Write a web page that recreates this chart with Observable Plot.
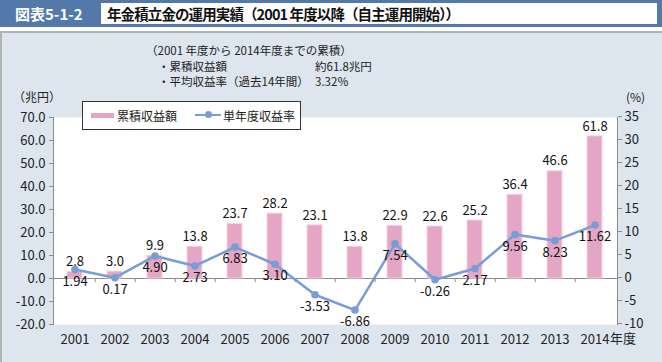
<!DOCTYPE html>
<html>
<head>
<meta charset="utf-8">
<script src="https://cdn.jsdelivr.net/npm/d3@7"></script>
<script src="https://cdn.jsdelivr.net/npm/@observablehq/plot@0.6"></script>
<style>
  html, body { margin: 0; padding: 0; background: #ffffff; }
  body { font-family: "Noto Sans CJK JP", "Noto Sans", sans-serif; color: #222; }
  #wrap { position: relative; width: 662px; height: 362px; overflow: hidden; }
  .abs { position: absolute; white-space: nowrap; }
  #banner { left: 0; top: 0; width: 662px; height: 27px; background: #5279aa; }
  #bannerWhite { left: 101px; top: 3px; width: 556px; height: 21px; background: #fff; }
  #fig { left: 15px; top: 3px; font-size: 15px; font-weight: bold; color: #fff; line-height: 21px; }
  #title { left: 107px; top: 3px; font-size: 14.5px; letter-spacing: -0.9px; font-weight: bold; color: #111; line-height: 21px; }
  #panel { left: 0; top: 31px; width: 660px; height: 329px; background: #dde6ee; border: 2px solid #b2b2b2; }
  .note { font-size: 11.5px; line-height: 15px; color: #222; }
  #chart { left: 0; top: 90px; }
  #legend { left: 82px; top: 101px; width: 217px; height: 27px; background: #fff; border: 1px solid #333; z-index: 5; }
  .lg { position: absolute; font-size: 12px; line-height: 27px; top: 0; }
</style>
</head>
<body>
<div id="wrap">
  <div id="banner" class="abs"></div>
  <div id="bannerWhite" class="abs"></div>
  <div id="fig" class="abs">図表5-1-2</div>
  <div id="title" class="abs">年金積立金の運用実績（2001 年度以降（自主運用開始））</div>
  <div id="panel" class="abs"></div>
  <div class="abs note" style="left:146px; top:43px;">（2001 年度から 2014年度までの累積）</div>
  <div class="abs note" style="left:158px; top:59px;">・累積収益額</div>
  <div class="abs note" style="left:315px; top:59px;">約61.8兆円</div>
  <div class="abs note" style="left:158px; top:74px;">・平均収益率（過去14年間）</div>
  <div class="abs note" style="left:315px; top:74px;">3.32％</div>
  <div class="abs note" style="left:13px; top:89px; font-size:12px;">（兆円）</div>
  <div class="abs note" style="left:626px; top:89px; font-size:12px;">(%)</div>
  <div id="chart" class="abs"></div>
  <div id="legend" class="abs">
    <div style="position:absolute; left:8px; top:11px; width:23px; height:5px; background:#e4a6c4;"></div>
    <div class="lg" style="left:34px;">累積収益額</div>
    <div style="position:absolute; left:112px; top:12px; width:26px; height:2px; background:#789dd6;"></div>
    <div style="position:absolute; left:122px; top:9px; width:7px; height:7px; border-radius:50%; background:#789dd6;"></div>
    <div class="lg" style="left:140px;">単年度収益率</div>
  </div>
</div>
<script>
// Data
const years = [2001, 2002, 2003, 2004, 2005, 2006, 2007, 2008, 2009, 2010, 2011, 2012, 2013, 2014];
const cumulative = [2.8, 3.0, 9.9, 13.8, 23.7, 28.2, 23.1, 13.8, 22.9, 22.6, 25.2, 36.4, 46.6, 61.8]; // 兆円
const rate = [1.94, 0.17, 4.90, 2.73, 6.83, 3.10, -3.53, -6.86, 7.54, -0.26, 2.17, 9.56, 8.23, 11.62]; // %
const leftTicks = [-20, -10, 0, 10, 20, 30, 40, 50, 60, 70];
const rightTicks = [-10, -5, 0, 5, 10, 15, 20, 25, 30, 35];

const data = years.map((y, i) => ({year: y, cum: cumulative[i], rate: rate[i]}));
const ratio = 2; // right axis (-10..35) maps onto left axis (-20..70)

const pink = "#e4a6c4";
const blue = "#789dd6";
const axisGray = "#8c8c8c";
const font = "Noto Sans CJK JP, Noto Sans, sans-serif";
const fmt = f => v => d3.format(f)(v).replace("\u2212", "-");

const chart = Plot.plot({
  width: 662,
  height: 262,
  marginTop: 27,
  marginBottom: 28,
  marginLeft: 53,
  marginRight: 45,
  style: {fontFamily: font, fontSize: "13px", color: "#222", background: "transparent", overflow: "visible"},
  x: {type: "band", domain: years, paddingInner: 0.62, paddingOuter: 0.31, label: null},
  y: {domain: [-20, 70], label: null},
  marks: [
    Plot.frame({fill: "#ffffff", stroke: null}),
    Plot.ruleY([0], {stroke: axisGray, strokeWidth: 1}),
    Plot.ruleX(years.slice(0, -1), {x: d => d, y1: 0, y2: 0, dx: 20.18, insetBottom: -4, stroke: axisGray}),
    Plot.barY(data, {x: "year", y: "cum", fill: pink, stroke: "#f3d3e2", strokeWidth: 1}),
    Plot.axisY(leftTicks, {anchor: "left", tickSize: 4, tickPadding: 4, stroke: axisGray, tickFormat: fmt(".1f"), fontSize: 13, label: null}),
    Plot.axisY(rightTicks.map(d => d * ratio), {anchor: "right", tickSize: 4, tickPadding: 3, stroke: axisGray, tickFormat: d => String(d / ratio), fontSize: 13, dy: -1, label: null}),
    Plot.frame({anchor: "left", stroke: axisGray}),
    Plot.frame({anchor: "right", stroke: axisGray}),
    Plot.axisX(years, {anchor: "bottom", tickSize: 0, tickPadding: 10, fontSize: 13, label: null, tickFormat: d => String(d)}),
    Plot.text([2014], {x: d => d, frameAnchor: "bottom", text: () => "年度", textAnchor: "start", dx: 15, dy: 18, fontSize: 13}),
    Plot.text(data, {x: "year", y: "cum", text: d => fmt(".1f")(d.cum), dy: -10, fontSize: 13, fill: "#111"}),
    Plot.line(data, {x: "year", y: d => d.rate * ratio, stroke: blue, strokeWidth: 2.5}),
    Plot.dot(data, {x: "year", y: d => d.rate * ratio, r: 3.8, fill: blue, stroke: null}),
    Plot.text(data, {x: "year", y: d => d.rate * ratio, text: d => fmt(".2f")(d.rate), dy: 12, fontSize: 13, fill: "#111"})
  ]
});
document.getElementById("chart").appendChild(chart);
</script>
</body>
</html>
